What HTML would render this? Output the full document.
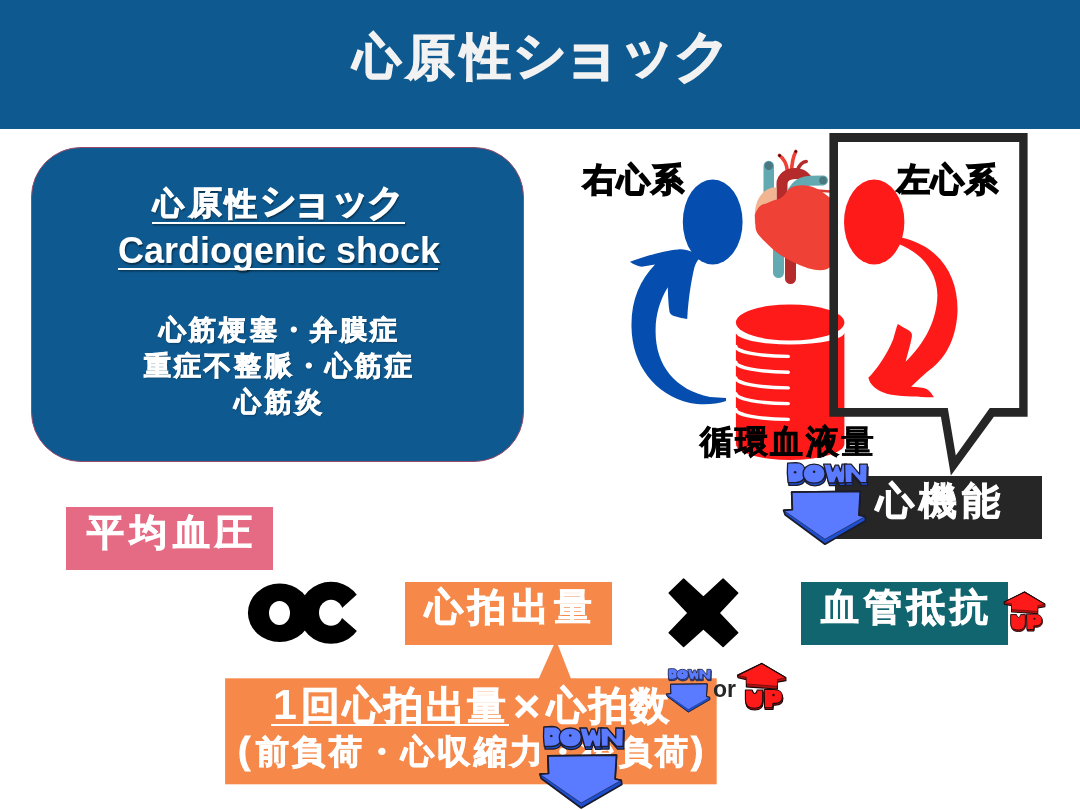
<!DOCTYPE html>
<html><head><meta charset="utf-8">
<style>
html,body{margin:0;padding:0;background:#fff;}
body{width:1080px;height:810px;position:relative;overflow:hidden;font-family:"Liberation Sans",sans-serif;}
.a{position:absolute;white-space:nowrap;font-weight:bold;will-change:transform;}
.l{position:absolute;left:0;top:0;}
.g{position:absolute;white-space:nowrap;font-weight:bold;}
.u{text-decoration:underline;text-decoration-skip-ink:none;}
</style></head><body>
<svg width="0" height="0" style="position:absolute">
 <defs>
  <symbol id="down" viewBox="0 0 86 84" overflow="visible">
   <polygon points="0,48.2 8.8,47.5 8.1,29.9 76.7,29.2 75.3,53 81.5,54.3 82,58.5 41.4,82 1.5,52.5" fill="#1d4fd0" stroke="#1b1b2b" stroke-width="1.7" stroke-linejoin="round"/>
   <polygon points="0,48.2 8.8,47.5 8.1,29.9 76.7,29.2 75.3,53 81.5,54.3 41.4,77" fill="#5a7aff" stroke="#1b1b2b" stroke-width="0.6" stroke-linejoin="round"/>
   <polyline points="0,48.2 8.8,47.5 8.1,29.9 76.7,29.2 75.3,53 81.5,54.3" fill="none" stroke="#1b1b2b" stroke-width="1.7" stroke-linejoin="round"/>
   <g stroke="#1b1b2b" stroke-width="1.3" stroke-linejoin="round">
    <g transform="translate(0.8,2.6)" fill="#1d4fd0"><use href="#dl"/></g>
    <g fill="#5a7aff"><use href="#dl"/></g>
   </g>
   <g fill="#1b1b2b"><circle cx="11.5" cy="10" r="1.3"/><circle cx="30.5" cy="9.5" r="1.3"/></g>
  </symbol>
  <g id="dl">
   <path d="M4,1 L12,0.5 C19,0.5 22,5 22,10.5 C22,16 18.5,20.5 12,20.5 L4.5,20.5 C3.5,14 3.5,7 4,1 Z"/>
   <path d="M19.5,11.5 C19.5,5.5 24,2 30.5,2 C37,2 41.5,5.5 41.5,11.5 C41.5,17.5 37,21 30.5,21 C24,21 19.5,17.5 19.5,11.5 Z"/>
   <path d="M40,2 L47,2 L49,9 L51.5,3 L55,3 L57,9 L58.5,2 L63,2 L60.5,20.8 L55,20.8 L53,15 L51,20.8 L45,20.8 Z"/>
   <path d="M61,2 L67.5,2 L76,12 L76,2 L83.7,2 L83.2,20.5 L77,20.5 L68.5,11 L68.5,20.5 L61.5,20.5 Z"/>
  </g>
  <symbol id="up" viewBox="0 0 50 47" overflow="visible">
   <polygon points="24.6,0 49.1,14.5 49.1,17.5 40.5,19 40.5,26 9,23.8 9,16.5 0.5,14.5 0,12.1" fill="#b31010" stroke="#1a0a0a" stroke-width="1.2" stroke-linejoin="round"/>
   <polygon points="0,12.1 9,13.9 9,20.8 40.5,23.2 40.5,16.3 49.1,14.5 24.6,0" fill="#ff1a1a" stroke="#1a0a0a" stroke-width="0.5" stroke-linejoin="round"/>
   <polyline points="0,12.1 24.6,0 49.1,14.5" fill="none" stroke="#1a0a0a" stroke-width="1.2" stroke-linejoin="round"/>
   <g stroke="#1a0a0a" stroke-width="1.1" stroke-linejoin="round">
    <g transform="translate(0.5,1.8)" fill="#b31010"><use href="#ul"/></g>
    <g fill="#ff1a1a"><use href="#ul"/></g>
   </g>
   <circle cx="36.5" cy="32" r="1.2" fill="#1a0a0a"/>
  </symbol>
  <g id="ul">
   <path d="M8,27 L15,27 C15.5,29 16.5,30.5 17.5,30.5 C18.5,30.5 19.5,29 20,27 L25.6,27 L25.6,37 C25.6,43 22,45.5 17,45.5 C11,45.5 8,43 8,37 Z"/>
   <path d="M27,26.5 L37,26.5 C42,26.5 45.6,29 45.6,33.5 C45.6,38.5 42,40.5 37.5,40.5 L36,40.5 L35.5,45 L27.5,45 Z"/>
  </g>
 </defs>
</svg>

<!-- header -->
<div class="a" style="left:0;top:0;width:1080px;height:129px;background:#0E598F;"></div>
<div class="a" style="left:0;top:0;color:#F2F2F2;-webkit-text-stroke:1.4px #F2F2F2;"><span class="g" style="left:352.9px;top:32.4px;font-size:48.4px;line-height:48.4px;">心</span><span class="g" style="left:406.3px;top:32.1px;font-size:49.3px;line-height:49.3px;">原</span><span class="g" style="left:460.7px;top:32.5px;font-size:49.7px;line-height:49.7px;">性</span><span class="g" style="left:513.1px;top:28.0px;font-size:53.3px;line-height:53.3px;">シ</span><span class="g" style="left:560.9px;top:24.8px;font-size:59.8px;line-height:59.8px;">ョ</span><span class="g" style="left:618.5px;top:24.2px;font-size:56.1px;line-height:56.1px;">ッ</span><span class="g" style="left:673.5px;top:28.5px;font-size:55.5px;line-height:55.5px;">ク</span></div>

<!-- rounded box -->
<div class="a" style="left:31px;top:147px;width:491px;height:313px;background:#0E598F;border:1px solid #9a4a6a;border-radius:50px;"></div>
<div class="a" style="left:0;top:0;color:#fff;-webkit-text-stroke:1.1px #fff;text-shadow:1px 1.5px 1.5px rgba(0,0,0,.45);"><span class="g" style="left:152.7px;top:188.4px;font-size:31.2px;line-height:31.2px;">心</span><span class="g" style="left:189.0px;top:187.3px;font-size:32.5px;line-height:32.5px;">原</span><span class="g" style="left:225.2px;top:188.3px;font-size:32.4px;line-height:32.4px;">性</span><span class="g" style="left:260.0px;top:184.4px;font-size:35.5px;line-height:35.5px;">シ</span><span class="g" style="left:291.4px;top:181.2px;font-size:40.6px;line-height:40.6px;">ョ</span><span class="g" style="left:330.8px;top:182.0px;font-size:37.5px;line-height:37.5px;">ッ</span><span class="g" style="left:367.2px;top:185.1px;font-size:36.6px;line-height:36.6px;">ク</span></div>
<div class="a" style="left:152px;top:221.5px;width:253px;height:2px;background:#fff;box-shadow:1px 1.5px 1.5px rgba(0,0,0,.4);"></div>
<div class="a" style="left:118px;top:233.3px;font-size:36px;line-height:36px;color:#fff;text-shadow:1px 1.5px 1.5px rgba(0,0,0,.45);">Cardiogenic shock</div>
<div class="a" style="left:118px;top:267.6px;width:320px;height:2px;background:#fff;box-shadow:1px 1.5px 1.5px rgba(0,0,0,.4);"></div>
<div class="a" style="left:31px;top:312px;width:493px;text-align:center;font-size:26.5px;line-height:36px;letter-spacing:3.2px;padding-left:4.5px;box-sizing:border-box;color:#fff;text-shadow:1px 1px 1.5px rgba(0,0,0,.4);-webkit-text-stroke:0.9px #fff;">心筋梗塞・弁膜症<br>重症不整脈・心筋症<br>心筋炎</div>

<!-- illustration -->
<svg class="l" width="1080" height="810">
 <!-- heart -->
 <path d="M763.5,205 V166 A5.25,5.25 0 0 1 774,166 V205 Z" fill="#62A9B1"/>
 <circle cx="768.8" cy="165.8" r="4.2" fill="#4A7880"/>
 <path d="M773,235 V272.5 A5.5,5.5 0 0 0 784,272.5 V235 Z" fill="#62A9B1"/>
 <path d="M785,235 V278.5 A5.5,5.5 0 0 0 796,278.5 V235 Z" fill="#B52B2B"/>
 <path d="M787.5,171 C786.5,163 783,158 779.4,155.4 M791.5,171 C792,161 794,155 795.8,151.5" stroke="#EF4136" stroke-width="3.6" fill="none" stroke-linecap="round"/>
 <path d="M797,171 C799,165 803,161.5 806.2,161.5" stroke="#B52B2B" stroke-width="3.6" fill="none" stroke-linecap="round"/>
 <circle cx="779.6" cy="155.6" r="1.3" fill="#3a0a0a"/><circle cx="795.8" cy="151.5" r="1.3" fill="#3a0a0a"/>
 <path d="M782,225 V184 C782,177.5 788,173.4 795,173.4 C800,173.4 804,175.5 806.5,179" stroke="#B52B2B" stroke-width="11" fill="none"/>
 <path d="M789.5,203 C790,190 798,181.5 810,180.8 L823,180.4" stroke="#62A9B1" stroke-width="10" fill="none" stroke-linecap="round"/>
 <circle cx="823" cy="180.4" r="3.8" fill="#4A7880"/>
 <path d="M810.5,190 L830,191.6" stroke="#D83A32" stroke-width="2.5"/>
 <path d="M776.5,187.5 L772.4,187.5 C762,190 755,200 754.8,215 L754.8,224 L776.5,224 Z" fill="#F2B591"/>
 <path d="M754.8,215.3 C757,208 761,204 765.7,203.8 C771,201 776,199.5 779.2,199 C783,197 785.5,193.5 787.4,190.9 C790,188 793,186.2 795.5,186.1 C805,184 813,186 821.7,191.6 L830,197.7 L830,267 C826,271 818,271 808,268.3 C798,265 789,260.5 782,256 C775,252 769,246 764.3,241.1 C760,236.5 756,233 755.5,227.5 Z" fill="#EF4136"/>
 <!-- blue -->
 <ellipse cx="712.7" cy="221.9" rx="29.9" ry="42.5" fill="#054DAE"/>
 <path d="M726,401 C715,405 700,405 690,403 C655,395 632,365 631.5,327 C631,300 640,280 655,264.4 L641.7,266.7 C637,266 633,264 630,261.7 C645,256 665,250.5 678.3,249.4 C683,249 688,250 691.7,251.7 L705,252 L706,258 L698.3,259.4 C696,262.5 694.5,266 693.9,269.4 C692,278 688.5,295 687.2,318.9 C684,318.5 679,317.8 673.9,316.1 C670.5,314.5 669.2,312.5 669.4,310.6 C668.5,305 668,295 667.8,287.2 C660,300 655.5,315 655.6,330 C655,365 675,390 710,397 L726,398 Z" fill="#054DAE"/>
 <!-- cylinder -->
 <ellipse cx="790.15" cy="322.5" rx="54.25" ry="18" fill="#FF1A1A"/>
 <path d="M735.9,332.5 A54.25,12 0 0 0 844.4,332.5 V444 A54.25,16 0 0 1 735.9,444 Z" fill="#FF1A1A"/>
 <g stroke="#fff" stroke-width="3.4" fill="none" stroke-linecap="round">
  <path d="M735.9,346.4 A54,10 0 0 0 788.3,356.4"/>
  <path d="M735.9,362.2 A54,10 0 0 0 788.3,372.2"/>
  <path d="M735.9,377.9 A54,10 0 0 0 788.3,387.9"/>
  <path d="M735.9,393.6 A54,10 0 0 0 788.3,403.6"/>
  <path d="M735.9,409.4 A54,10 0 0 0 788.3,419.4"/>
 </g>
 <!-- bubble -->
 <path fill-rule="evenodd" fill="#262626" d="M829.4,133 H1027.6 V416.7 H993.9 L950.9,475.6 L940.9,416.7 H829.4 Z M838,142 V408.1 H947.8 L955.8,455.6 L989.8,408.1 H1019.2 V142 Z"/>
 <!-- red -->
 <ellipse cx="874.2" cy="222" rx="30.2" ry="42.6" fill="#FF1A1A"/>
 <path d="M897.5,243.5 L901,237.6 C940,246 958.5,276 957.5,312 C956,340 945,360 926.7,372.2 C920,378 915,383 911.1,386.7 C918,387 923,387.5 926.7,388.9 C930,391 932,394 933.9,397.2 C925,397.5 905,396.5 893.3,395 C885,394 875,390 870,382.2 L868.3,377.8 C876,370 887,355 893.3,338.9 C895,333 896.5,327 897.8,323.9 C901,326 905,328 908.9,330.6 C911.5,332.5 912.5,334.5 911.7,337.5 C910.5,345 907.5,354 905.6,361.7 C925,343 937,320 937.4,295 C937,270 920,252 897.5,243.5 Z" fill="#FF1A1A"/>
</svg>
<div class="a" style="left:582.5px;top:162.5px;font-size:33.3px;line-height:33.3px;letter-spacing:1px;color:#000;-webkit-text-stroke:1.6px #000;">右心系</div>
<div class="a" style="left:896.5px;top:162.5px;font-size:33.3px;line-height:33.3px;letter-spacing:1px;color:#000;-webkit-text-stroke:1.6px #000;">左心系</div>
<div class="a" style="left:700px;top:426px;font-size:32.6px;line-height:32.6px;letter-spacing:2.2px;color:#000;-webkit-text-stroke:0.8px #000;">循環血液<span style="-webkit-text-stroke-width:0.2px">量</span></div>

<!-- 心機能 -->
<div class="a" style="left:835px;top:476px;width:206.5px;height:62.6px;background:#262626;"></div>
<div class="a" style="left:875.5px;top:482px;font-size:38px;line-height:38px;letter-spacing:5px;color:#fff;-webkit-text-stroke:1px #fff;">心機能</div>
<svg class="l" width="1080" height="810"><use href="#down" x="783.6" y="462.2" width="86" height="84"/></svg>

<!-- bottom row -->
<div class="a" style="left:66px;top:507px;width:207px;height:62.8px;background:#E56B84;"></div>
<div class="a" style="left:86.5px;top:514px;font-size:37px;line-height:37px;letter-spacing:5.8px;color:#fff;-webkit-text-stroke:1px #fff;">平均血圧</div>
<div class="a" style="left:405px;top:582px;width:207px;height:62.6px;background:#F6894A;"></div>
<div class="a" style="left:424.5px;top:588px;font-size:38px;line-height:38px;letter-spacing:5px;color:#fff;-webkit-text-stroke:1px #fff;">心拍出<span style="-webkit-text-stroke-width:0.4px">量</span></div>
<div class="a" style="left:801px;top:582px;width:207px;height:63px;background:#10656F;"></div>
<div class="a" style="left:821px;top:588px;font-size:38px;line-height:38px;letter-spacing:5px;color:#fff;-webkit-text-stroke:1px #fff;">血管抵抗</div>
<svg class="l" width="1080" height="810">
 <ellipse cx="331" cy="612.8" rx="32" ry="31" fill="#000"/>
 <ellipse cx="279.7" cy="612.8" rx="31.8" ry="29.2" fill="#000"/>
 <ellipse cx="279.5" cy="613" rx="10.5" ry="12" fill="#fff"/>
 <ellipse cx="331" cy="612.8" rx="12" ry="13" fill="#fff"/>
 <polygon fill="#fff" points="338,612.8 342.6,607.6 356.9,594.6 372,580 372,646 356.9,631 342.6,618.6"/>
 <polygon fill="#000" stroke="#000" stroke-width="1.5" stroke-linejoin="round" points="703.4,597.3 723.1,579 737.7,593.1 719,613.1 737.7,632.7 723.1,646.5 703.4,628.6 683.6,646.5 669.2,632.7 688.1,613.1 669.2,593.1 683.6,579"/>
 <use href="#up" x="1004" y="592" width="41.7" height="39.3"/>
 <!-- callout -->
 <polygon fill="#F6894A" points="538.6,679 571.1,679 556,640"/>
 <rect x="225.1" y="678.3" width="491.6" height="106" fill="#F6894A"/>
</svg>
<div class="a" style="left:269px;top:683.5px;font-size:38.5px;line-height:38.5px;letter-spacing:2.5px;color:#fff;-webkit-text-stroke:1px #fff;"><span style="display:inline-block;width:32px;text-align:center;letter-spacing:0;-webkit-text-stroke:0;font-size:43px;">1</span>回心拍出<span style="-webkit-text-stroke-width:0.5px">量</span><span style="display:inline-block;width:38.5px;text-align:center;letter-spacing:0;-webkit-text-stroke:0.2px #fff;font-size:47px;position:relative;top:2.5px;left:-1px;">×</span>心拍数</div>
<div class="a" style="left:271px;top:723.5px;width:237.5px;height:2px;background:#fff;"></div>
<div class="a" style="left:237.5px;top:734.5px;font-size:32.5px;line-height:32.5px;letter-spacing:3.25px;color:#fff;-webkit-text-stroke:1px #fff;"><span style="display:inline-block;width:18px;letter-spacing:0;-webkit-text-stroke:0.9px #fff;font-size:37px;">(</span>前負荷・心収縮力・後負荷<span style="-webkit-text-stroke:0.9px #fff;font-size:37px;">)</span></div>
<svg class="l" width="1080" height="810">
 <use href="#down" x="666.2" y="668" width="46" height="45.5"/>
 <use href="#up" x="737.5" y="663.4" width="49.3" height="46.4"/>
 <use href="#down" x="539.8" y="726" width="86" height="84"/>
</svg>
<div class="a" style="left:712.5px;top:678px;font-size:23px;line-height:23px;color:#262626;">or</div>
</body></html>
